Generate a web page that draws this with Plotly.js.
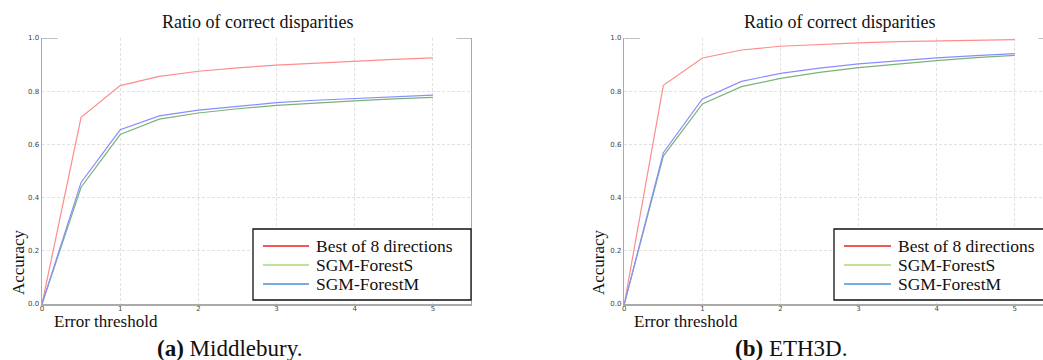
<!DOCTYPE html>
<html>
<head>
<meta charset="utf-8">
<script src="https://cdn.plot.ly/plotly-3.0.1.min.js"></script>
<style>html,body{margin:0;padding:0;background:#fff;}#chart{width:1043px;height:360px;}</style>
</head>
<body>
<div id="chart"></div>
<script>
// ---- data ----
const thresholds = [0, 0.5, 1, 1.5, 2, 2.5, 3, 3.5, 4, 4.5, 5];
const seriesNames = ["Best of 8 directions", "SGM-ForestS", "SGM-ForestM"];

// (a) Middlebury
const midBest8   = [0, 0.702, 0.821, 0.856, 0.875, 0.888, 0.898, 0.906, 0.914, 0.920, 0.925];
const midForestS = [0, 0.439, 0.637, 0.695, 0.718, 0.734, 0.747, 0.756, 0.764, 0.771, 0.777];
const midForestM = [0, 0.457, 0.655, 0.707, 0.729, 0.744, 0.757, 0.766, 0.773, 0.779, 0.785];

// (b) ETH3D
const ethBest8   = [0, 0.822, 0.925, 0.955, 0.969, 0.976, 0.982, 0.986, 0.989, 0.992, 0.994];
const ethForestS = [0, 0.556, 0.752, 0.817, 0.848, 0.871, 0.889, 0.903, 0.915, 0.926, 0.935];
const ethForestM = [0, 0.569, 0.771, 0.837, 0.867, 0.887, 0.903, 0.915, 0.925, 0.934, 0.941];

const xTicks = [0, 1, 2, 3, 4, 5];
const yTicks = [0, 0.2, 0.4, 0.6, 0.8, 1.0];
const yTickText = ["0.0", "0.2", "0.4", "0.6", "0.8", "1.0"];

const plotTitle = "Ratio of correct disparities";
const xLabel = "Error threshold";
const yLabel = "Accuracy";
const captions = ["<b>(a)</b> Middlebury.", "<b>(b)</b> ETH3D."];

// ---- styles ----
const lineColors = ["rgb(255,140,140)", "rgb(120,180,120)", "rgb(140,140,255)"];
const legendColors = ["#e82020", "#a6dc74", "#4a90d8"];
const serif = "'Liberation Serif', 'Times New Roman', serif";

const W = 1043, H = 360;
const px = x => x / W, py = y => (H - y) / H;

function dataTraces(vals, xa, ya) {
  return vals.map((v, i) => ({
    type: "scatter", mode: "lines", x: thresholds, y: v, name: seriesNames[i],
    xaxis: xa, yaxis: ya, showlegend: false, hoverinfo: "skip",
    line: {color: lineColors[i], width: 1.2}
  }));
}

const traces = [].concat(
  dataTraces([midBest8, midForestS, midForestM], "x", "y"),
  dataTraces([ethBest8, ethForestS, ethForestM], "x2", "y2")
);

const yDomain = [py(304), py(38)];
const gridStyle = {showgrid: true, gridcolor: "#e2e2e2", griddash: "3px,2px", gridwidth: 1};
function xaxisCfg(domain, range) {
  return Object.assign({
    domain: domain, range: range, tickvals: xTicks, ticktext: xTicks.map(String),
    zeroline: false, showline: true, linecolor: "#aaaaaa", linewidth: 1.5,
    ticks: "", ticklabelstandoff: -3, tickfont: {family: "DejaVu Sans", size: 7, color: "#444"},
    fixedrange: true
  }, gridStyle);
}
function yaxisCfg(anchor) {
  return Object.assign({
    domain: yDomain, range: [0, 1], tickvals: yTicks, ticktext: yTickText, anchor: anchor,
    zeroline: false, showline: true, linecolor: "#aaaaaa", linewidth: 1.5,
    ticks: "", tickfont: {family: "DejaVu Sans", size: 7, color: "#444"},
    fixedrange: true
  }, gridStyle);
}

function ann(text, x, y, size, opts) {
  return Object.assign({text: text, x: px(x), y: py(y), xref: "paper", yref: "paper",
    xanchor: "center", yanchor: "middle",
    showarrow: false, font: {family: serif, size: size, color: "#111"}}, opts || {});
}

const lineGrey = {color: "#aaaaaa", width: 1.5};
const shapes = [
  {type: "line", xref: "x", yref: "y", x0: 0, x1: 0.2, y0: 1, y1: 1, line: lineGrey},
  {type: "line", xref: "x", yref: "y", x0: 5.3, x1: 5.5, y0: 1, y1: 1, line: lineGrey},
  {type: "line", xref: "x", yref: "y", x0: 5.5, x1: 5.5, y0: 0, y1: 1, line: {color: "#aaaaaa", width: 2}},
  {type: "line", xref: "x2", yref: "y2", x0: 0, x1: 0.2, y0: 1, y1: 1, line: lineGrey},
  {type: "line", xref: "x2", yref: "y2", x0: 5.3, x1: 5.5, y0: 1, y1: 1, line: lineGrey}
];
const annotations = [
  ann(plotTitle, 257, 22, 18),
  ann(plotTitle, 839, 22, 18),
  ann(yLabel, 18, 262, 17, {textangle: -90}),
  ann(yLabel, 598, 262, 17, {textangle: -90}),
  ann(xLabel, 52, 321, 17, {xanchor: "left"}),
  ann(xLabel, 632, 321, 17, {xanchor: "left"}),
  ann(captions[0], 229, 348, 23),
  ann(captions[1], 791, 348, 23)
];

// legend boxes (drawn as shapes + text)
function addLegend(x0, x1, lineX0, lineX1, textX) {
  shapes.push({type: "rect", xref: "paper", yref: "paper", x0: px(x0), x1: px(x1), y0: py(300), y1: py(229),
    fillcolor: "#fff", line: {color: "#111", width: 1.3}, layer: "above"});
  const rowsY = [246, 265, 284];
  seriesNames.forEach((n, i) => {
    shapes.push({type: "line", xref: "paper", yref: "paper", x0: px(lineX0), x1: px(lineX1),
      y0: py(rowsY[i]), y1: py(rowsY[i]), line: {color: legendColors[i], width: 1.5}, layer: "above"});
    annotations.push(ann(n, textX, rowsY[i], 17.5, {xanchor: "left"}));
  });
}
addLegend(253, 471, 263, 309, 314);
addLegend(834, 1050, 844, 891, 896);

const layout = {
  width: W, height: H, margin: {l: 0, r: 0, t: 0, b: 0},
  paper_bgcolor: "#fff", plot_bgcolor: "#fff", showlegend: false,
  xaxis: xaxisCfg([px(42), px(472)], [0, 5.5]),
  yaxis: yaxisCfg("x"),
  xaxis2: xaxisCfg([px(624.3), 1], [0, (W - 624.3) / 78.1]),
  yaxis2: yaxisCfg("x2"),
  shapes: shapes,
  annotations: annotations
};

Plotly.newPlot("chart", traces, layout, {staticPlot: true, displayModeBar: false});
</script>
</body>
</html>
